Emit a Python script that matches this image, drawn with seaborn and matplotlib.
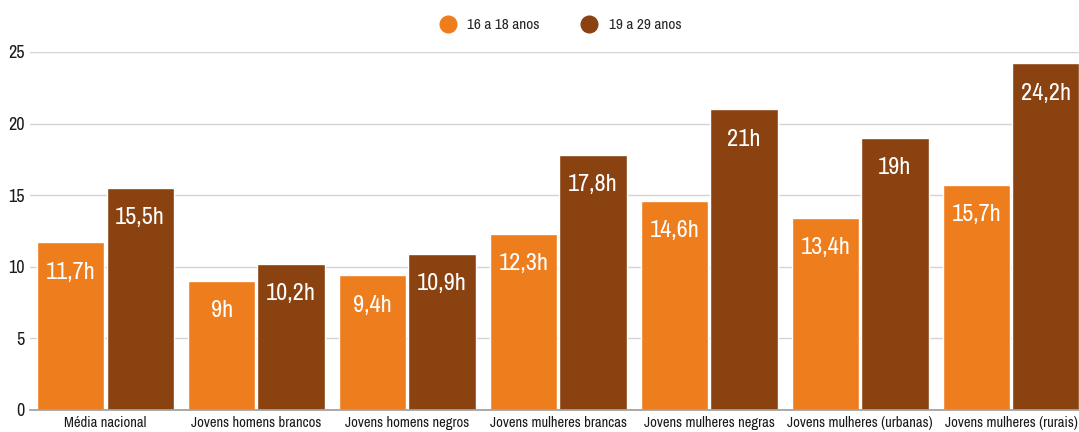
import pandas as pd
import seaborn as sns
import matplotlib.pyplot as plt
from matplotlib.lines import Line2D
from matplotlib import font_manager

categories = ["Média nacional", "Jovens homens brancos", "Jovens homens negros",
              "Jovens mulheres brancas", "Jovens mulheres negras",
              "Jovens mulheres (urbanas)", "Jovens mulheres (rurais)"]
series_names = ["16 a 18 anos", "19 a 29 anos"]
vals_16_18 = [11.7, 9.0, 9.4, 12.3, 14.6, 13.4, 15.7]
vals_19_29 = [15.5, 10.2, 10.9, 17.8, 21.0, 19.0, 24.2]
colors = ["#EE7D1E", "#8A4211"]

df = pd.DataFrame({
    "categoria": categories * 2,
    "grupo": [series_names[0]] * len(categories) + [series_names[1]] * len(categories),
    "horas": vals_16_18 + vals_19_29,
})

sns.set_theme(style="white")

# the original uses a condensed typeface, take a narrow one if there is one
fam = "DejaVu Sans"
for f in font_manager.fontManager.ttflist:
    nm = f.name.lower()
    if "condensed" in nm or "narrow" in nm:
        fam = f.name
        break
plt.rcParams["font.family"] = [fam, "DejaVu Sans"]

fig = plt.figure(figsize=(10.79, 4.32), dpi=100)
ax = fig.add_axes([30 / 1079, 1 - 410 / 432, 1 - 30 / 1079, (410 - 52) / 432])

sns.barplot(data=df, x="categoria", y="horas", hue="grupo", palette=colors,
            width=0.92, gap=0.03, saturation=1, ax=ax, legend=False)

ax.set_ylim(0, 25)
ax.set_xlim(-0.5, 6.45)
ax.set_yticks([0, 5, 10, 15, 20, 25])
ax.yaxis.grid(True, color="#d4d4d4", linewidth=1)
ax.set_axisbelow(True)
for s in ["top", "right", "left"]:
    ax.spines[s].set_visible(False)
ax.spines["bottom"].set_color("#a0a0a0")
ax.tick_params(axis="both", length=0, labelsize=13, colors="#1a1a1a")
ax.tick_params(axis="y", pad=4)
ax.tick_params(axis="x", pad=4, labelsize=10.5)
ax.set_xlabel("")
ax.set_ylabel("")

for cont, vals in zip(ax.containers, [vals_16_18, vals_19_29]):
    labels = [(f"{v:.1f}".replace(".", ",").replace(",0", "")) + "h" for v in vals]
    ax.bar_label(cont, labels=labels, padding=-29, color="white",
                 fontsize=17.5, fontweight="bold")

handles = [Line2D([0], [0], marker="o", color="none", markerfacecolor=c,
                  markeredgecolor=c, markersize=12) for c in colors]
fig.legend(handles, series_names, loc="upper center", bbox_to_anchor=(0.516, 0.99),
           ncol=2, frameon=False, fontsize=11, handletextpad=0.3, columnspacing=2.2)

fig.savefig("out.png", dpi=100)
